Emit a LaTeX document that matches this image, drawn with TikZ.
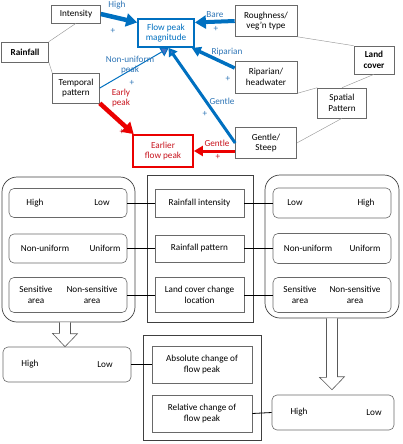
\documentclass[tikz,border=0pt]{standalone}
\usepackage{fontspec}
\setmainfont{Carlito}
\usetikzlibrary{arrows.meta,positioning,calc}
\definecolor{fpblue}{RGB}{0,112,192}
\definecolor{lblblue}{RGB}{46,117,182}
\definecolor{headblue}{RGB}{68,114,196}
\definecolor{fpred}{RGB}{235,0,0}
\definecolor{txtred}{RGB}{200,20,30}
\definecolor{boxgray}{RGB}{105,105,105}
\tikzset{
  box/.style={
    rectangle,
    draw=boxgray, line width=0.6pt,
    fill=white,
    align=center,
    inner sep=0pt},
  rbox/.style={box, rounded corners=5pt},
  group/.style={draw=black!75, line width=0.7pt, rounded corners=15pt, inner sep=0pt},
  frame/.style={draw=black!75, line width=0.7pt, inner sep=0pt},
  link/.style={draw=black!40, line width=0.45pt},
  tie/.style={draw=black, line width=0.8pt},
  hollow/.style={draw=black!65, line width=0.6pt, fill=white},
  bl/.style={text=lblblue, inner sep=1pt},
  rl/.style={text=txtred, inner sep=1pt},
}

\begin{document}
\begin{tikzpicture}[
    x=1pt, y=-1pt,
    every node/.style={font=\fontsize{9.2}{10.6}\selectfont},
    fat/.style={line width=4.5pt, -{Triangle[length=11pt,width=13pt]}},
    mid/.style={line width=3pt, -{Triangle[length=9pt,width=10pt]}},
    thin/.style={line width=1pt, -{Triangle[length=8pt,width=10pt]}}
    ]
    \useasboundingbox (0,0) rectangle (402,444);

    %drivers and responses
    \node[box, minimum width=49, minimum height=18] (int) at (76,14) {Intensity};
    \node[box, font=\fontsize{9.2}{10.6}\selectfont\bfseries, minimum width=47,
        minimum height=20] (rain) at (25,52) {Rainfall};
    \node[box, minimum width=47, minimum height=30] (temp) at (76,88) {Temporal\\pattern};
    \node[box, draw=fpblue, line width=1.8pt, text=fpblue, minimum width=56,
        minimum height=28] (fpm) at (166,33) {Flow peak\\magnitude};
    \node[box, minimum width=62, minimum height=31] (rough) at (266,21) {Roughness/\\veg'n type};
    \node[box, font=\fontsize{9.2}{10.6}\selectfont\bfseries, minimum width=40,
        minimum height=28] (land) at (374,60) {Land\\cover};
    \node[box, minimum width=62, minimum height=32] (rip) at (266,77) {Riparian/\\headwater};
    \node[box, minimum width=49, minimum height=30] (spat) at (342,103) {Spatial\\Pattern};
    \node[box, minimum width=61, minimum height=31] (slope) at (266,143) {Gentle/\\Steep};
    \node[box, draw=fpred, line width=1.8pt, text=txtred, minimum width=60,
        minimum height=32] (efp) at (163,151) {Earlier\\flow peak};

    %grey links
    \draw[link] (rain.north east) -- (int.south);
    \draw[link] (rain.south east) -- (temp.north west);
    \draw[link] (rough.south east) -- (land.north west);
    \draw[link] (land.south) -- (spat.north);
    \draw[link] (rip.south east) -- (spat.north west);
    \draw[link] (slope.east) -- (spat.south);

    %blue arrows
    \draw[fat, fpblue] (int.east) -- (fpm.160);
    \draw[fat, fpblue, line width=4pt] (rough.west) -- (fpm.20);
    \draw[mid, fpblue, line width=3.5pt] (rip.164) -- (fpm.-30);
    \draw[mid, fpblue, -{Triangle[length=8pt,width=10pt,fill=headblue]}] (slope.west) -- (fpm.-80);
    \draw[thin, fpblue, -{Triangle[length=8pt,width=10pt,fill=headblue]}] (temp.east) -- (fpm.-80);

    %red arrows
    \draw[fat, fpred] (temp.south east) -- (efp.150);
    \draw[mid, fpred] (slope.west |- efp.east) -- (efp.east);

    %labels
    \node[bl] (lhigh) at (117,5) {High};
    \node[bl] (phigh) at (113,31) {+};
    \node[bl] (lbare) at (215,15) {Bare};
    \node[bl] (pbare) at (216,29) {+};
    \node[bl] (lrip) at (227,52) {Riparian};
    \node[bl] (prip) at (228,79) {+};
    \node[bl] (lgen) at (222,101) {Gentle};
    \node[bl] (pgen) at (205,114) {+};
    \node[bl, align=center] (lnon) at (130,65) {Non-uniform\\peak};
    \node[bl] (pnon) at (132,83) {+};
    \node[rl, align=center] (lear) at (121,98) {Early\\peak};
    \node[rl] (pear) at (122,132) {+};
    \node[rl] (lrgen) at (217,143) {Gentle};
    \node[rl] (prgen) at (218,157) {+};

    %lower scheme
    \node[group, minimum width=133, minimum height=145] (lgroup) at (68.5,249.5) {};
    \node[frame, minimum width=106, minimum height=147] (mgroup) at (200,248.5) {};
    \node[group, minimum width=134, minimum height=143] (rgroup) at (332,246.5) {};

    \node[rbox, minimum width=118, minimum height=29] (lr1) at (68,203) {};
    \node[rbox, minimum width=118, minimum height=29] (lr2) at (68,248.5) {};
    \node[rbox, minimum width=118, minimum height=35] (lr3) at (68,295) {};
    \node[box, minimum width=89, minimum height=28] (mr1) at (199.5,203) {Rainfall intensity};
    \node[box, minimum width=89, minimum height=27] (mr2) at (199.5,248.5) {Rainfall pattern};
    \node[box, minimum width=89, minimum height=35] (mr3) at (199.5,295) {Land cover change\\location};
    \node[rbox, minimum width=118, minimum height=30] (rr1) at (332,203) {};
    \node[rbox, minimum width=118, minimum height=30] (rr2) at (332,248.5) {};
    \node[rbox, minimum width=118, minimum height=35] (rr3) at (332,295) {};

    \node (l1a) at (35,203) {High};
    \node (l1b) at (102,203) {Low};
    \node (l2a) at (45,248.5) {Non-uniform};
    \node (l2b) at (105,248.5) {Uniform};
    \node[align=center] (l3a) at (36,295) {Sensitive\\area};
    \node[align=center] (l3b) at (92,295) {Non-sensitive\\area};
    \node (r1a) at (295,203) {Low};
    \node (r1b) at (366,203) {High};
    \node (r2a) at (308,248.5) {Non-uniform};
    \node (r2b) at (365,248.5) {Uniform};
    \node[align=center] (r3a) at (300,295) {Sensitive\\area};
    \node[align=center] (r3b) at (355,295) {Non-sensitive\\area};

    \draw[tie] (lr1) -- (mr1);
    \draw[tie] (lr2) -- (mr2);
    \draw[tie] (lr3) -- (mr3);
    \draw[tie] (mr1) -- (rr1);
    \draw[tie] (mr2) -- (rr2);
    \draw[tie] (mr3) -- (rr3);

    %outcomes
    \node[rbox, minimum width=128, minimum height=35] (lbot) at (67,364.5) {};
    \node (lba) at (30,364.5) {High};
    \node (lbb) at (105,364.5) {Low};
    \node[frame, minimum width=118, minimum height=105] (mbot) at (202,387.5) {};
    \node[box, minimum width=100, minimum height=37] (mb1) at (202,364.5) {Absolute change of\\flow peak};
    \node[box, minimum width=100, minimum height=37] (mb2) at (202,413.5) {Relative change of\\flow peak};
    \node[rbox, minimum width=122, minimum height=35] (rbot) at (333,412.5) {};
    \node (rba) at (299,412.5) {High};
    \node (rbb) at (374,412.5) {Low};

    \draw[tie] (lbot.east) -- (mb1.west);
    \draw[tie] (mb2.east) -- (rbot.west);

    %hollow arrows
    \coordinate (ltop) at (lgroup.south -| 65,0);
    \coordinate (rtop) at (rgroup.south -| 332,0);
    \draw[hollow] ($(ltop)+(-5.5,0)$) -- ++(0,11) -- ++(-7,0) -- (ltop |- lbot.north)
        -- ++(12.5,-13) -- ++(-7,0) -- ($(ltop)+(5.5,0)$);
    \draw[hollow] ($(rtop)+(-5.5,0)$) -- ++(0,59) -- ++(-7,0) -- ($(rtop |- rbot.north)+(0,-5)$)
        -- ++(12.5,-13) -- ++(-7,0) -- ($(rtop)+(5.5,0)$);
\end{tikzpicture}
\end{document}
